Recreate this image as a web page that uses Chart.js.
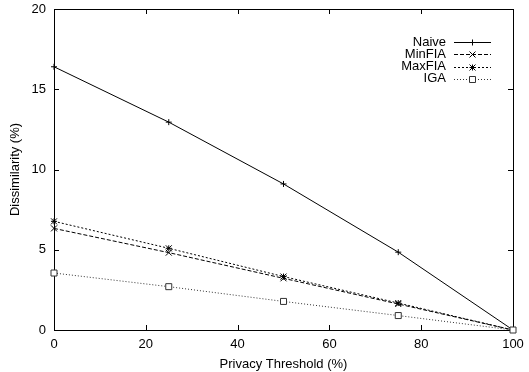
<!DOCTYPE html>
<html><head><meta charset="utf-8">
<script src="https://cdn.jsdelivr.net/npm/chart.js@4"></script>
<style>html,body{margin:0;padding:0;background:#fff}#wrap{width:529px;height:372px}</style>
</head><body><div id="wrap"><canvas id="c" width="529" height="372"></canvas></div>
<script>
const thresholds = [0, 25, 50, 75, 100];
const naive  = [16.4, 12.95, 9.1, 4.85, 0];
const minFIA = [6.33, 4.82, 3.22, 1.62, 0];
const maxFIA = [6.77, 5.09, 3.33, 1.68, 0];
const iga    = [3.55, 2.7, 1.78, 0.9, 0];
const xTicks = [0, 20, 40, 60, 80, 100];
const yTicks = [0, 5, 10, 15, 20];
const seriesNames = ['Naive', 'MinFIA', 'MaxFIA', 'IGA'];

const FONT = '"Liberation Sans", Arial, sans-serif';
const pts = arr => arr.map((v, i) => ({x: thresholds[i], y: v}));

function drawMarker(ctx, style, x, y, color) {
  ctx.save();
  ctx.strokeStyle = color; ctx.lineWidth = 1; ctx.setLineDash([]);
  ctx.beginPath();
  const r = 3;
  if (style === 'cross') {
    ctx.moveTo(x - r, y); ctx.lineTo(x + r, y); ctx.moveTo(x, y - r); ctx.lineTo(x, y + r);
  } else if (style === 'crossRot') {
    ctx.moveTo(x - r, y - r); ctx.lineTo(x + r, y + r); ctx.moveTo(x - r, y + r); ctx.lineTo(x + r, y - r);
  } else if (style === 'star') {
    ctx.moveTo(x - r, y); ctx.lineTo(x + r, y); ctx.moveTo(x, y - r); ctx.lineTo(x, y + r);
    ctx.moveTo(x - r, y - r); ctx.lineTo(x + r, y + r); ctx.moveTo(x - r, y + r); ctx.lineTo(x + r, y - r);
  } else if (style === 'rect') {
    ctx.fillStyle = '#fff';
    ctx.fillRect(x - 3, y - 3, 6, 6);
    ctx.rect(x - 3, y - 3, 6, 6);
  }
  ctx.stroke();
  ctx.restore();
}

const frame = {
  id: 'frame',
  afterDatasetsDraw(chart) {
    const {ctx, chartArea: a, scales: {x, y}} = chart;
    ctx.save();
    ctx.strokeStyle = '#000'; ctx.lineWidth = 1; ctx.setLineDash([]);
    ctx.strokeRect(Math.round(a.left) + 0.5, Math.round(a.top) + 0.5, Math.round(a.right - a.left), Math.round(a.bottom - a.top));
    ctx.beginPath();
    const L = 5;
    xTicks.forEach(v => {
      const px = Math.round(x.getPixelForValue(v)) + 0.5;
      ctx.moveTo(px, a.bottom); ctx.lineTo(px, a.bottom - L);
      ctx.moveTo(px, a.top); ctx.lineTo(px, a.top + L);
    });
    yTicks.forEach(v => {
      const py = Math.round(y.getPixelForValue(v)) + 0.5;
      ctx.moveTo(a.left, py); ctx.lineTo(a.left + L, py);
      ctx.moveTo(a.right, py); ctx.lineTo(a.right - L, py);
    });
    ctx.stroke();
    chart.data.datasets.forEach((ds, i) => {
      const meta = chart.getDatasetMeta(i);
      meta.data.forEach(p => drawMarker(ctx, ds.marker, p.x, p.y, ds.borderColor));
    });
    ctx.font = '13px ' + FONT;
    ctx.fillStyle = '#000';
    ctx.textAlign = 'right'; ctx.textBaseline = 'middle';
    chart.data.datasets.forEach((ds, i) => {
      const ly = 42 + i * 12.3;
      ctx.fillText(ds.label, 446, ly);
      ctx.save();
      ctx.strokeStyle = ds.borderColor; ctx.lineWidth = 1;
      ctx.setLineDash(ds.borderDash || []);
      ctx.beginPath(); ctx.moveTo(454, Math.round(ly) + 0.5); ctx.lineTo(491, Math.round(ly) + 0.5); ctx.stroke();
      ctx.restore();
      drawMarker(ctx, ds.marker, 472.5, Math.round(ly) + 0.5, ds.borderColor);
    });
    ctx.restore();
  }
};

new Chart(document.getElementById('c'), {
  type: 'line',
  data: {
    datasets: [
      {label: seriesNames[0], data: pts(naive), borderColor: '#000', borderWidth: 1, borderDash: [], marker: 'cross'},
      {label: seriesNames[1], data: pts(minFIA), borderColor: '#000', borderWidth: 1, borderDash: [4, 2], marker: 'crossRot'},
      {label: seriesNames[2], data: pts(maxFIA), borderColor: '#000', borderWidth: 1, borderDash: [2, 2], marker: 'star'},
      {label: seriesNames[3], data: pts(iga), borderColor: '#333', borderWidth: 1, borderDash: [1, 2], marker: 'rect'}
    ]
  },
  options: {
    responsive: false, animation: false,
    layout: {padding: {top: 9, right: 16, left: 0, bottom: 0}},
    elements: {point: {radius: 0, hoverRadius: 0}, line: {tension: 0}},
    plugins: {legend: {display: false}, tooltip: {enabled: false}},
    scales: {
      x: {
        type: 'linear', min: 0, max: 100,
        afterBuildTicks(s) { s.ticks = xTicks.map(v => ({value: v})); },
        afterFit(s) { s.height = 42; s.paddingLeft = 0; s.paddingRight = 0; },
        grid: {display: false, drawTicks: false}, border: {display: false},
        ticks: {color: '#000', font: {family: FONT, size: 13}, padding: 7, maxRotation: 0},
        title: {display: true, text: 'Privacy Threshold (%)', color: '#000', font: {family: FONT, size: 13}, padding: {top: 7, bottom: 0}}
      },
      y: {
        min: 0, max: 20,
        afterBuildTicks(s) { s.ticks = yTicks.map(v => ({value: v})); },
        afterFit(s) { s.width = 54; s.paddingTop = 0; s.paddingBottom = 0; },
        grid: {display: false, drawTicks: false}, border: {display: false},
        ticks: {color: '#000', font: {family: FONT, size: 13}, padding: 8},
        title: {display: true, text: 'Dissimilarity (%)', color: '#000', font: {family: FONT, size: 13}, padding: {top: 8, bottom: 0}}
      }
    }
  },
  plugins: [frame]
});
</script>
</body></html>
